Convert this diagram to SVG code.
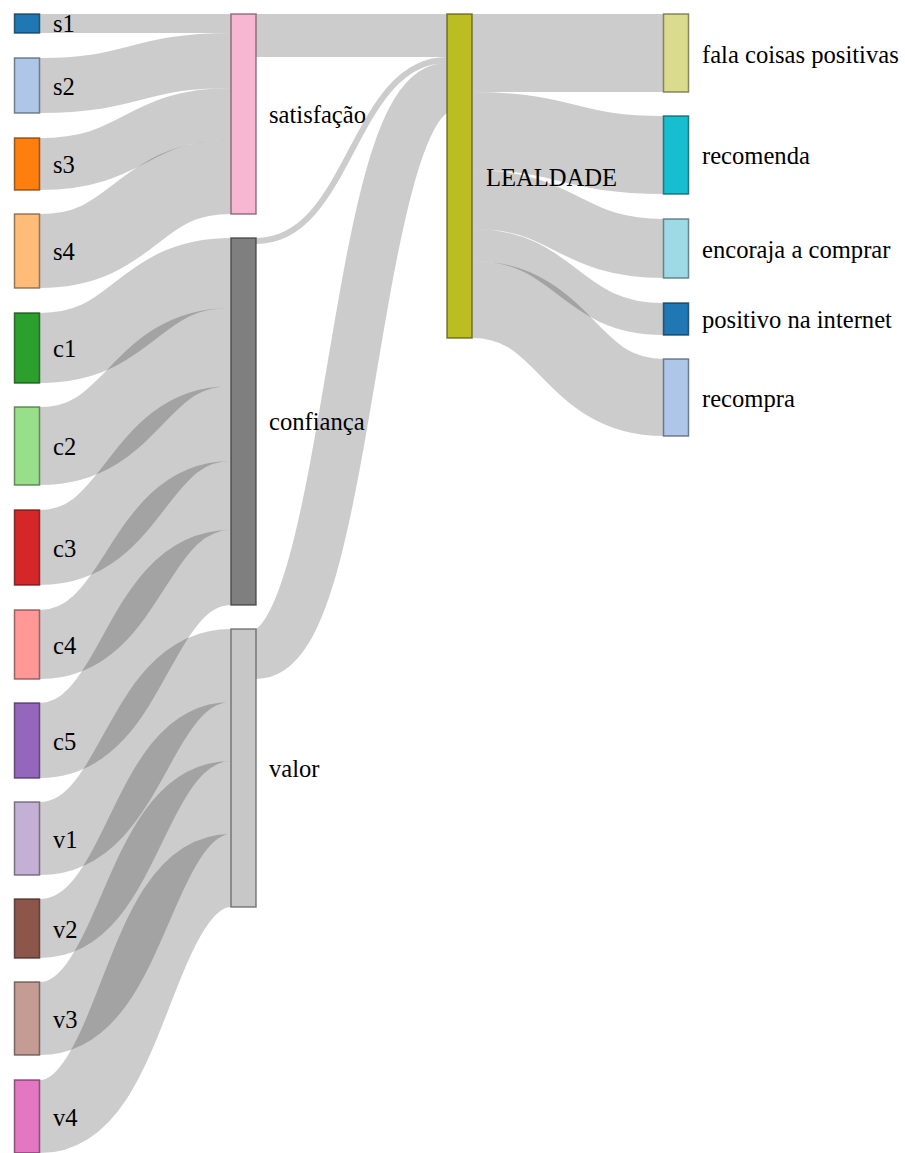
<svg xmlns="http://www.w3.org/2000/svg" width="905" height="1153" viewBox="0 0 905 1153" font-family="'Liberation Serif', 'Times New Roman', 'DejaVu Serif', serif">
<style>
.link{fill:none;stroke:#000;stroke-opacity:0.2}
.node rect{stroke-width:1.5;stroke-opacity:0.8}
.node text{font-family:'Liberation Serif','Times New Roman','DejaVu Serif',serif;font-size:24.6px;fill:#000}
</style>
<rect width="905" height="1153" fill="#fff"/>
<g id="links">
<path class="link" stroke-width="19" d="M40,23.5 C135.5,23.5 135.5,23.5 231,23.5"/>
<path class="link" stroke-width="55" d="M40,85.5 C135.5,85.5 135.5,60.5 231,60.5"/>
<path class="link" stroke-width="52" d="M40,164 C135.5,164 135.5,114 231,114"/>
<path class="link" stroke-width="74" d="M40,251 C135.5,251 135.5,177 231,177"/>
<path class="link" stroke-width="70" d="M40,348 C135.5,348 135.5,273 231,273"/>
<path class="link" stroke-width="78" d="M40,446 C135.5,446 135.5,347 231,347"/>
<path class="link" stroke-width="75" d="M40,547.5 C135.5,547.5 135.5,423.5 231,423.5"/>
<path class="link" stroke-width="69" d="M40,644.5 C135.5,644.5 135.5,495.5 231,495.5"/>
<path class="link" stroke-width="75" d="M40,740.5 C135.5,740.5 135.5,567.5 231,567.5"/>
<path class="link" stroke-width="73" d="M40,838.5 C135.5,838.5 135.5,665.5 231,665.5"/>
<path class="link" stroke-width="59" d="M40,928.5 C135.5,928.5 135.5,731.5 231,731.5"/>
<path class="link" stroke-width="73" d="M40,1018.5 C135.5,1018.5 135.5,797.5 231,797.5"/>
<path class="link" stroke-width="73" d="M40,1116.5 C135.5,1116.5 135.5,870.5 231,870.5"/>
<path class="link" stroke-width="43" d="M256,35.5 C351.5,35.5 351.5,35.5 447,35.5"/>
<path class="link" stroke-width="6" d="M256,241 C351.5,241 351.5,60 447,60"/>
<path class="link" stroke-width="50" d="M256,654 C351.5,654 351.5,88 447,88"/>
<path class="link" stroke-width="78" d="M472,53 C567.5,53 567.5,53 663.5,53"/>
<path class="link" stroke-width="78" d="M472,131 C567.5,131 567.5,155 663.5,155"/>
<path class="link" stroke-width="59" d="M472,199.5 C567.5,199.5 567.5,248.5 663.5,248.5"/>
<path class="link" stroke-width="32" d="M472,245 C567.5,245 567.5,319 663.5,319"/>
<path class="link" stroke-width="77" d="M472,299.5 C567.5,299.5 567.5,397.5 663.5,397.5"/>
</g>
<g id="s1" class="node"><rect x="14.5" y="14" width="25" height="19" fill="#1f77b4" stroke="#0f3a58"/><text x="53" y="32">s1</text></g>
<g id="s2" class="node"><rect x="14.5" y="58" width="25" height="55" fill="#aec7e8" stroke="#556272"/><text x="53" y="94.5">s2</text></g>
<g id="s3" class="node"><rect x="14.5" y="138" width="25" height="52" fill="#ff7f0e" stroke="#7d3e07"/><text x="53" y="173">s3</text></g>
<g id="s4" class="node"><rect x="14.5" y="214" width="25" height="74" fill="#ffbb78" stroke="#7d5c3b"/><text x="53" y="260">s4</text></g>
<g id="c1" class="node"><rect x="14.5" y="313" width="25" height="70" fill="#2ca02c" stroke="#164e16"/><text x="53" y="357">c1</text></g>
<g id="c2" class="node"><rect x="14.5" y="407" width="25" height="78" fill="#98df8a" stroke="#4a6d44"/><text x="53" y="455">c2</text></g>
<g id="c3" class="node"><rect x="14.5" y="510" width="25" height="75" fill="#d62728" stroke="#691314"/><text x="53" y="556.5">c3</text></g>
<g id="c4" class="node"><rect x="14.5" y="610" width="25" height="69" fill="#ff9896" stroke="#7d4a4a"/><text x="53" y="653.5">c4</text></g>
<g id="c5" class="node"><rect x="14.5" y="703" width="25" height="75" fill="#9467bd" stroke="#49325d"/><text x="53" y="749.5">c5</text></g>
<g id="v1" class="node"><rect x="14.5" y="802" width="25" height="73" fill="#c5b0d5" stroke="#615668"/><text x="53" y="847.5">v1</text></g>
<g id="v2" class="node"><rect x="14.5" y="899" width="25" height="59" fill="#8c564b" stroke="#452a25"/><text x="53" y="937.5">v2</text></g>
<g id="v3" class="node"><rect x="14.5" y="982" width="25" height="73" fill="#c49c94" stroke="#604c49"/><text x="53" y="1027.5">v3</text></g>
<g id="v4" class="node"><rect x="14.5" y="1080" width="25" height="73" fill="#e377c2" stroke="#6f3a5f"/><text x="53" y="1125.5">v4</text></g>
<g id="satisfacao" class="node"><rect x="231" y="14" width="25" height="200" fill="#f7b6d2" stroke="#795967"/><text x="269" y="123">satisfação</text></g>
<g id="confianca" class="node"><rect x="231" y="238" width="25" height="367" fill="#7f7f7f" stroke="#3e3e3e"/><text x="269" y="430">confiança</text></g>
<g id="valor" class="node"><rect x="231" y="629" width="25" height="278" fill="#c7c7c7" stroke="#626262"/><text x="269" y="777">valor</text></g>
<g id="lealdade" class="node"><rect x="447" y="14" width="25" height="324" fill="#bcbd22" stroke="#5c5d11"/><text x="486" y="186">LEALDADE</text></g>
<g id="fala" class="node"><rect x="663.5" y="14" width="25" height="78" fill="#dbdb8d" stroke="#6b6b45"/><text x="702" y="63">fala coisas positivas</text></g>
<g id="recomenda" class="node"><rect x="663.5" y="116" width="25" height="78" fill="#17becf" stroke="#0b5d65"/><text x="702" y="164">recomenda</text></g>
<g id="encoraja" class="node"><rect x="663.5" y="219" width="25" height="59" fill="#9edae5" stroke="#4d6b70"/><text x="702" y="257.5">encoraja a comprar</text></g>
<g id="positivo" class="node"><rect x="663.5" y="303" width="25" height="32" fill="#1f77b4" stroke="#0f3a58"/><text x="702" y="328">positivo na internet</text></g>
<g id="recompra" class="node"><rect x="663.5" y="359" width="25" height="77" fill="#aec7e8" stroke="#556272"/><text x="702" y="406.5">recompra</text></g>
</svg>
